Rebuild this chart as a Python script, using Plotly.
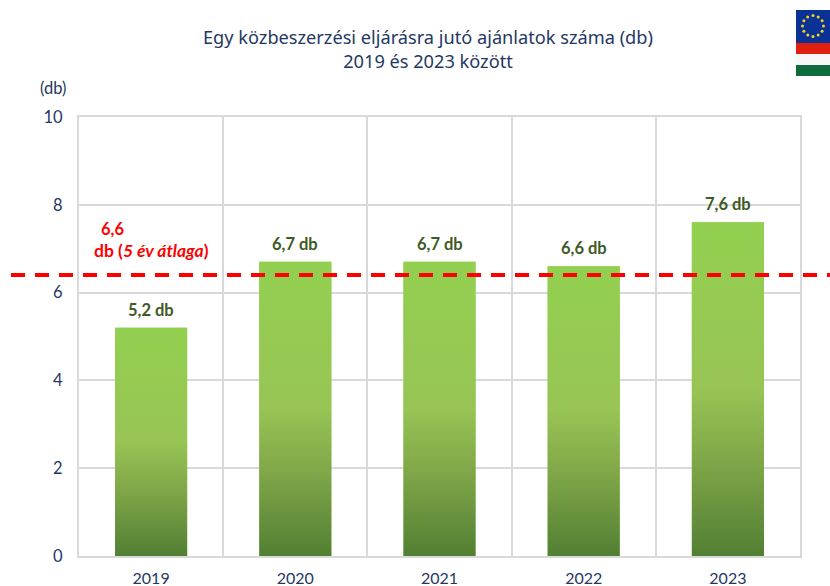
import base64
import math
import plotly.graph_objects as go

years = [2019, 2020, 2021, 2022, 2023]
values = [5.2, 6.7, 6.7, 6.6, 7.6]
labels = ["5,2 db", "6,7 db", "6,7 db", "6,6 db", "7,6 db"]
average_line = 6.4
y_ticks = [0, 2, 4, 6, 8, 10]

W, H = 830, 586
L, R, T, B = 79, 30, 117, 30
NAVY = "#1F3864"
BODY = "Lato, Carlito, sans-serif"
BAR_W = 0.5

fig = go.Figure()
fig.add_trace(go.Bar(
    x=years, y=values, width=BAR_W, marker=dict(color="#92D050", line=dict(width=0)),
    hoverinfo="skip", showlegend=False,
))
# Vertical gradient over each bar (bars in Plotly have no gradient fill of their own)
for yr, v in zip(years, values):
    fig.add_trace(go.Scatter(
        x=[yr - BAR_W / 2, yr + BAR_W / 2, yr + BAR_W / 2, yr - BAR_W / 2, yr - BAR_W / 2],
        y=[0, 0, v, v, 0], mode="lines", line=dict(width=0), fill="toself",
        fillgradient=dict(type="vertical", start=v, stop=0,
                          colorscale=[[0, "#92D050"], [0.5, "#98C455"], [0.72, "#7FA648"], [1, "#527F33"]]),
        hoverinfo="skip", showlegend=False,
    ))

bar_labels = [
    dict(text=t, x=yr, y=v, xref="x", yref="y", yshift=18, yanchor="middle", xanchor="center", showarrow=False,
         font=dict(family=BODY, size=16.5, color="#3F5A26", weight="bold"))
    for yr, v, t in zip(years, values, labels)
]

fig.update_layout(
    width=W, height=H, margin=dict(l=L, r=R, t=T, b=B, autoexpand=False),
    paper_bgcolor="white", plot_bgcolor="white", showlegend=False,
    font=dict(family=BODY, color=NAVY),
    xaxis=dict(range=[2018.5, 2023.5], tickmode="array", tickvals=years, ticktext=[str(y) for y in years],
               showgrid=False, zeroline=False, ticks="", tickfont=dict(size=16, color=NAVY), ticklabelstandoff=7,
               showline=True, linecolor="#D9D9D9", linewidth=2, mirror=True,
               minor=dict(tick0=2018.5, dtick=1, showgrid=True, gridcolor="#D9D9D9", gridwidth=2, ticks="")),
    yaxis=dict(range=[0, 10], tickmode="array", tickvals=y_ticks, gridcolor="#D9D9D9", gridwidth=2,
               zeroline=False, ticks="", tickfont=dict(size=16.5, color=NAVY), ticklabelstandoff=11,
               showline=True, linecolor="#D9D9D9", linewidth=2, mirror=True),
    shapes=[dict(type="line", xref="paper", yref="y", x0=(11 - L) / (W - L - R), x1=(W - L) / (W - L - R),
                 y0=average_line, y1=average_line,
                 line=dict(color="#FF0000", width=4, dash="14px,10px"), layer="above")],
    annotations=bar_labels + [
        dict(text="Egy közbeszerzési eljárásra jutó ajánlatok száma (db)<br>2019 és 2023 között",
             xref="paper", yref="paper", x=(428 - L) / (W - L - R), y=1 + (117 - 49) / (H - T - B),
             xanchor="center", yanchor="middle", showarrow=False, align="center",
             font=dict(family="Noto Sans, sans-serif", size=18.2, color=NAVY)),
        dict(text="(db)", xref="paper", yref="paper", x=(53 - L) / (W - L - R), y=1 + (117 - 88) / (H - T - B),
             xanchor="center", yanchor="middle", showarrow=False, font=dict(family=BODY, size=16.5, color=NAVY)),
        dict(text="<b>6,6</b>", xref="paper", yref="paper", x=(112 - L) / (W - L - R), y=1 - (229 - T) / (H - T - B),
             xanchor="center", yanchor="middle", showarrow=False, font=dict(family=BODY, size=16.5, color="#FF0000")),
        dict(text="<b>db (<i>5 év átlaga</i>)</b>", xref="paper", yref="paper", x=(151 - L) / (W - L - R),
             y=1 - (250 - T) / (H - T - B), xanchor="center", yanchor="middle", showarrow=False,
             font=dict(family=BODY, size=17.5, color="#FF0000")),
    ],
)

# Flag at the top right: EU blue with a star ring above the Hungarian tricolour
stars = "".join(
    f'<circle cx="{17 + 10.5 * math.cos(math.radians(a)):.1f}" cy="{16 + 10.5 * math.sin(math.radians(a)):.1f}" r="1.5" fill="#F4D21F"/>'
    for a in range(0, 360, 30))
svg = f'''<svg xmlns="http://www.w3.org/2000/svg" width="34" height="66" viewBox="0 0 34 66">
<rect width="34" height="33" fill="#0A3296"/>{stars}
<rect y="33" width="34" height="11" fill="#E0200F"/><rect y="44" width="34" height="11" fill="#F7F7F7"/>
<rect y="55" width="34" height="11" fill="#0F6B3C"/></svg>'''
uri = "data:image/svg+xml;base64," + base64.b64encode(svg.encode()).decode()
fig.add_layout_image(dict(source=uri, xref="paper", yref="paper",
                          x=(796 - L) / (W - L - R), y=1 + (117 - 10) / (H - T - B),
                          sizex=34 / (W - L - R), sizey=66 / (H - T - B),
                          xanchor="left", yanchor="top", sizing="stretch", layer="above"))

fig.write_html("out.html", config={"displayModeBar": False}, post_script="document.body.style.margin='0';")
